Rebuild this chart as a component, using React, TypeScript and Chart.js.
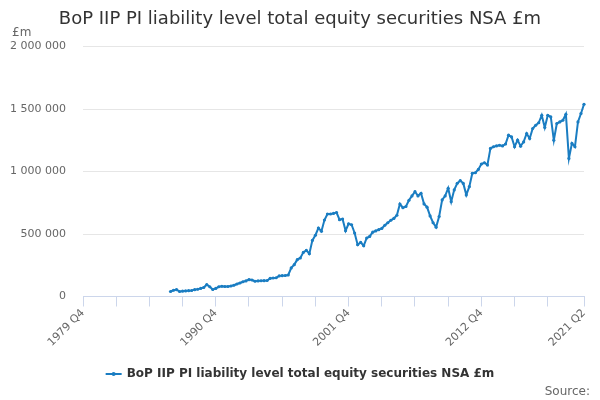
import { useEffect, useRef } from "react";
import { Chart, registerables } from "chart.js";

Chart.register(...registerables);

const title = "BoP IIP PI liability level total equity securities NSA £m";
const unitLabel = "£m";
const sourceLabel = "Source:";

// quarterly categories, 1979 Q4 .. 2021 Q2
const firstYear = 1979;
const lastYear = 2021;
const quarters: string[] = [];
for (let y = firstYear; y <= lastYear; y++) {
  for (let q = 1; q <= 4; q++) {
    if (y === firstYear && q < 4) continue;
    if (y === lastYear && q > 2) continue;
    quarters.push(`${y} Q${q}`);
  }
}

// labelled ticks and tick-mark spacing on the x axis
const xLabelled = ["1979 Q4", "1990 Q4", "2001 Q4", "2012 Q4", "2021 Q2"];
const tickEvery = 11;

// y axis
const yMin = 0;
const yMax = 2000000;
const yStep = 500000;

// series starts in 1987 Q1, £m
const seriesStart = "1987 Q1";
const liabilities = [
  40000, 50000, 55000, 40000, 43000, 45000, 47000, 48000, // 1987-88
  55000, 58000, 65000, 72000, 95000, 78000, 56000, 65000, // 1989-90
  78000, 82000, 80000, 80000, 84000, 90000, 100000, 108000, // 1991-92
  118000, 125000, 135000, 132000, 122000, 125000, 126000, 127000, // 1993-94
  128000, 145000, 148000, 150000, 165000, 167000, 168000, 172000, // 1995-96
  229000, 255000, 295000, 308000, 353000, 369000, 343000, 449000, // 1997-98
  490000, 548000, 522000, 612000, 660000, 660000, 665000, 672000, // 1999-00
  615000, 620000, 526000, 582000, 574000, 508000, 414000, 433000, // 2001-02
  406000, 468000, 481000, 515000, 525000, 535000, 545000, 570000, // 2003-04
  590000, 610000, 625000, 650000, 740000, 710000, 720000, 770000, // 2005-06
  805000, 839000, 805000, 826000, 741000, 715000, 645000, 590000, // 2007-08
  555000, 640000, 773000, 805000, 866000, 759000, 853000, 906000, // 2009-10
  927000, 905000, 813000, 879000, 986000, 990000, 1017000, 1060000, // 2011-12
  1070000, 1052000, 1185000, 1198000, 1205000, 1210000, 1205000, 1220000, // 2013-14
  1291000, 1277000, 1198000, 1251000, 1203000, 1237000, 1304000, 1264000, // 2015-16
  1344000, 1370000, 1390000, 1450000, 1352000, 1450000, 1437000, 1251000, // 2017-18
  1384000, 1397000, 1410000, 1458000, 1105000, 1225000, 1198000, 1397000, // 2019-20
  1464000, 1538000, // 2021
];

const lineColor = "#1a7dc2";

const startIdx = quarters.indexOf(seriesStart);
const seriesData = quarters.map((_, i) =>
  i < startIdx || i - startIdx >= liabilities.length ? null : liabilities[i - startIdx]
);

const lastIdx = quarters.length - 1;
const isTickMark = (i: number) =>
  i === lastIdx || (i % tickEvery === 0 && lastIdx - i >= tickEvery / 2);

const fmt = (v: number) => Math.round(v).toLocaleString("en-GB").replace(/,/g, " ");

// title, unit, legend and source drawn on the canvas
const overlay = {
  id: "overlay",
  afterDraw(chart: Chart) {
    const { ctx, width } = chart;
    ctx.save();
    ctx.textBaseline = "alphabetic";

    ctx.fillStyle = "#333333";
    ctx.font = "18px 'DejaVu Sans'";
    ctx.textAlign = "center";
    ctx.fillText(title, width / 2, 24);

    ctx.fillStyle = "#666666";
    ctx.font = "12px 'DejaVu Sans'";
    ctx.textAlign = "left";
    ctx.fillText(unitLabel, 12, 36);

    ctx.textAlign = "right";
    ctx.fillText(sourceLabel, 590, 395);

    // legend
    ctx.font = "bold 12px 'DejaVu Sans'";
    const textW = ctx.measureText(title).width;
    const symW = 16;
    const gap = 5;
    const x0 = width / 2 - (symW + gap + textW) / 2;
    const ly = 374;
    ctx.strokeStyle = lineColor;
    ctx.lineWidth = 2;
    ctx.beginPath();
    ctx.moveTo(x0, ly);
    ctx.lineTo(x0 + symW, ly);
    ctx.stroke();
    ctx.fillStyle = lineColor;
    ctx.beginPath();
    ctx.arc(x0 + symW / 2, ly, 2, 0, Math.PI * 2);
    ctx.fill();
    ctx.fillStyle = "#333333";
    ctx.textAlign = "left";
    ctx.textBaseline = "middle";
    ctx.fillText(title, x0 + symW + gap, ly);

    ctx.restore();
  },
};

function LiabilityChart() {
  const ref = useRef<HTMLCanvasElement>(null);
  const chartRef = useRef<Chart | null>(null);

  useEffect(() => {
    if (!ref.current) return;
    chartRef.current?.destroy();
    Chart.defaults.font.family = "'DejaVu Sans', sans-serif";
    chartRef.current = new Chart(ref.current, {
      type: "line",
      data: {
        labels: quarters,
        datasets: [
          {
            label: title,
            data: seriesData,
            borderColor: lineColor,
            backgroundColor: lineColor,
            borderWidth: 2,
            pointRadius: 1.6,
            pointBorderWidth: 0,
            pointBackgroundColor: lineColor,
            tension: 0,
            spanGaps: false,
          },
        ],
      },
      options: {
        animation: false,
        responsive: true,
        maintainAspectRatio: false,
        layout: { padding: { top: 46.5, right: 16, bottom: 0, left: 0 } },
        plugins: {
          legend: { display: false },
          title: { display: false },
          tooltip: { enabled: false },
        },
        scales: {
          x: {
            type: "category",
            grid: {
              drawOnChartArea: false,
              drawTicks: true,
              tickLength: 10,
              tickWidth: 1,
              tickColor: (c: any) => (isTickMark(c.index) ? "#ccd6eb" : "rgba(0,0,0,0)"),
            },
            border: { color: "#ccd6eb", width: 1 },
            ticks: {
              autoSkip: false,
              minRotation: 45,
              maxRotation: 45,
              padding: 0,
              color: "#666666",
              font: { size: 11 },
              callback: (_v: any, i: number) => (xLabelled.includes(quarters[i]) ? quarters[i] : ""),
            },
            afterFit: (s: any) => {
              s.height = 103.5;
            },
          },
          y: {
            min: yMin,
            max: yMax,
            grid: {
              drawTicks: false,
              color: (c: any) => (c.tick && c.tick.value === 0 ? "rgba(0,0,0,0)" : "#e6e6e6"),
            },
            border: { display: false },
            ticks: {
              stepSize: yStep,
              padding: 17,
              color: "#666666",
              font: { size: 11 },
              callback: (v: any) => fmt(Number(v)),
            },
            afterFit: (s: any) => {
              s.width = 83;
            },
          },
        },
      },
      plugins: [overlay],
    });
    return () => {
      chartRef.current?.destroy();
      chartRef.current = null;
    };
  }, []);

  return (
    <div style={{ position: "relative", width: 600, height: 400 }}>
      <canvas ref={ref} role="img" aria-label={title}>
        {title}
      </canvas>
    </div>
  );
}

export default function App() {
  useEffect(() => {
    document.body.style.margin = "0";
  }, []);
  return <LiabilityChart />;
}
